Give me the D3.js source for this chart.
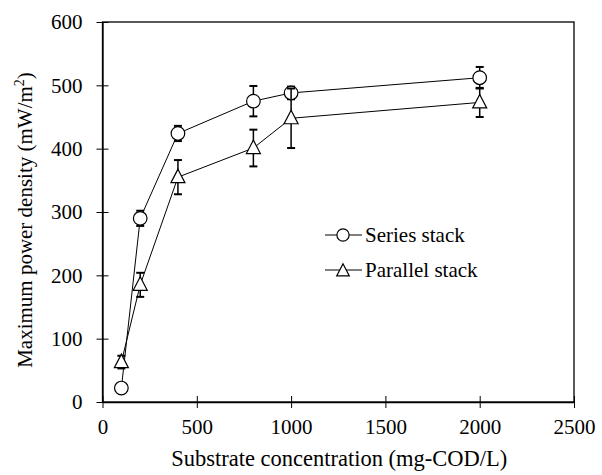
<!DOCTYPE html>
<html>
<head>
<meta charset="utf-8">
<script src="https://cdn.jsdelivr.net/npm/d3@7"></script>
<style>
body { margin: 0; background: #fff; }
text { font-family: "Liberation Serif", "Times New Roman", serif; fill: #000; }
</style>
</head>
<body>
<script>
var concentration = [100, 200, 400, 800, 1000, 2000];
var seriesPower = [22, 290, 424, 475, 488, 512];
var seriesErr = [0, 12, 12, 24, 10, 17];
var parallelPower = [63, 185, 355, 401, 448, 473];
var parallelErr = [10, 19, 27, 29, 47, 23];
var xTicks = [0, 500, 1000, 1500, 2000, 2500];
var yTicks = [0, 100, 200, 300, 400, 500, 600];

var margin = {top: 22, right: 28, bottom: 73, left: 102.5},
    width = 602 - margin.left - margin.right,
    height = 475 - margin.top - margin.bottom;

var svg = d3.select("body").append("svg")
    .attr("width", 602)
    .attr("height", 475)
    .append("g")
    .attr("transform", "translate(" + margin.left + "," + margin.top + ")");

var x = d3.scaleLinear().domain([0, 2500]).range([0, width]);
var y = d3.scaleLinear().domain([0, 600]).range([height, 0]);

// frame
svg.append("rect")
    .attr("width", width).attr("height", height)
    .attr("fill", "none").attr("stroke", "#000").attr("stroke-width", 1.3);

var xAxis = svg.append("g")
    .attr("transform", "translate(0," + height + ")")
    .call(d3.axisBottom(x).tickValues(xTicks).tickFormat(d3.format("d"))
        .tickSize(6).tickSizeOuter(0).tickPadding(11));
xAxis.selectAll(".tick line").attr("y1", -6).attr("y2", 6);

var yAxis = svg.append("g")
    .call(d3.axisLeft(y).tickValues(yTicks).tickFormat(d3.format("d"))
        .tickSize(6).tickSizeOuter(0).tickPadding(14));
yAxis.selectAll(".tick line").attr("x1", -6).attr("x2", 6);

svg.selectAll(".domain").attr("stroke-width", 1.3);
svg.selectAll(".tick text")
    .attr("font-family", null)
    .style("font-family", "'Liberation Serif', serif")
    .style("font-size", "21px");

svg.append("text")
    .attr("x", width / 2 + 1)
    .attr("y", height + 64)
    .attr("text-anchor", "middle")
    .style("font-size", "22.5px")
    .text("Substrate concentration (mg-COD/L)");

var yl = svg.append("text")
    .attr("transform", "translate(-70.5,198) rotate(-90)")
    .attr("text-anchor", "middle")
    .style("font-size", "21px");
yl.append("tspan").text("Maximum power density (mW/m");
yl.append("tspan").attr("dy", -8).style("font-size", "14px").text("2");
yl.append("tspan").attr("dy", 8).text(")");

var series = [
    {name: "Series stack", vals: seriesPower, err: seriesErr, shape: "circle"},
    {name: "Parallel stack", vals: parallelPower, err: parallelErr, shape: "triangle"}
];

var line = d3.line()
    .x(function (d) { return x(d[0]); })
    .y(function (d) { return y(d[1]); });

function marker(g, shape, cx, cy, k) {
    k = k || 1;
    if (shape === "circle") {
        g.append("circle").attr("cx", cx).attr("cy", cy).attr("r", 6.8 * k)
            .attr("fill", "#fff").attr("stroke", "#000").attr("stroke-width", 1.2);
    } else {
        g.append("path")
            .attr("d", "M" + cx + "," + (cy - 8 * k) + "L" + (cx + 7 * k) + "," + (cy + 5.5 * k) +
                "L" + (cx - 7 * k) + "," + (cy + 5.5 * k) + "Z")
            .attr("fill", "#fff").attr("stroke", "#000").attr("stroke-width", 1.2);
    }
}

series.forEach(function (s) {
    var pts = concentration.map(function (c, i) { return [c, s.vals[i], s.err[i]]; });
    var g = svg.append("g");
    g.append("path").datum(pts).attr("d", line)
        .attr("fill", "none").attr("stroke", "#000").attr("stroke-width", 1);
    pts.forEach(function (p) {
        if (p[2] > 0) {
            var cx = x(p[0]), y1 = y(p[1] + p[2]), y2 = y(p[1] - p[2]);
            g.append("line").attr("x1", cx).attr("x2", cx).attr("y1", y1).attr("y2", y2)
                .attr("stroke", "#000").attr("stroke-width", 1.5);
            [y1, y2].forEach(function (yy) {
                g.append("line").attr("x1", cx - 4).attr("x2", cx + 4).attr("y1", yy).attr("y2", yy)
                    .attr("stroke", "#000").attr("stroke-width", 2);
            });
        }
    });
    pts.forEach(function (p) { marker(g, s.shape, x(p[0]), y(p[1])); });
});

// legend
var legend = svg.append("g").attr("transform", "translate(222.5,213)");
series.forEach(function (s, i) {
    var ly = i * 35;
    legend.append("line").attr("x1", 0).attr("x2", 37).attr("y1", ly).attr("y2", ly)
        .attr("stroke", "#000").attr("stroke-width", 1);
    marker(legend, s.shape, 18, ly + (s.shape === "triangle" ? 1 : 0), 0.9);
    legend.append("text").attr("x", 40).attr("y", ly + 7)
        .style("font-size", "21px").text(s.name);
});
</script>
</body>
</html>
